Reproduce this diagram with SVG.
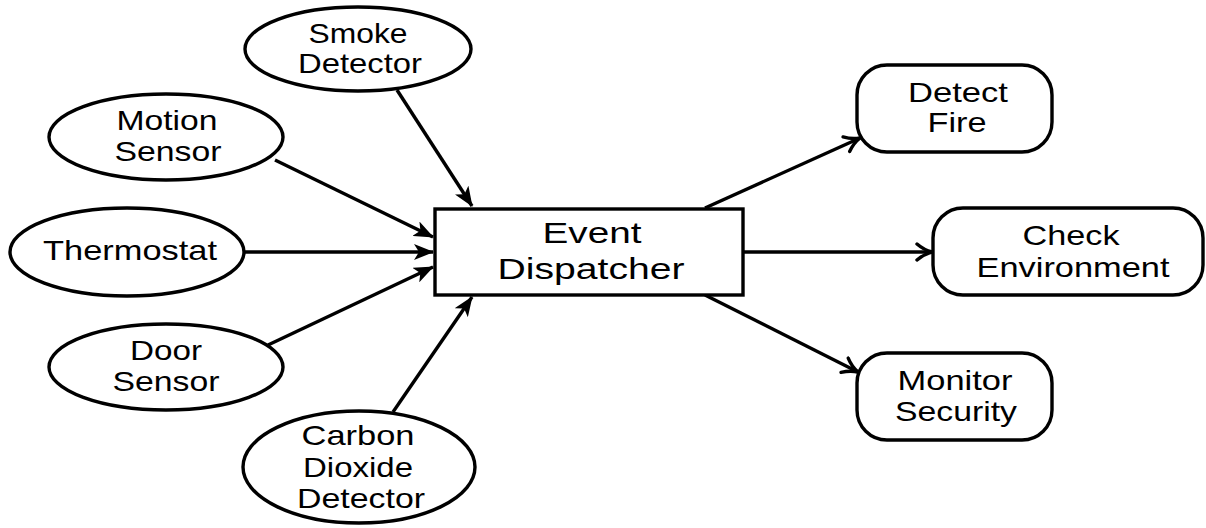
<svg xmlns="http://www.w3.org/2000/svg" width="1206" height="528" viewBox="0 0 1206 528">
<defs>
<style>
.shape{fill:#fff;stroke:#000;stroke-width:3.4}
.lbl{font-family:"Liberation Sans",Arial,sans-serif;font-size:28px;fill:#000;text-anchor:middle}
.big{font-size:30px}
.edge{stroke:#000;stroke-width:3.4;fill:none}
</style>
<marker id="fill" viewBox="0 0 20 16" refX="19" refY="8" markerWidth="20" markerHeight="16" markerUnits="userSpaceOnUse" orient="auto">
<path d="M0,0 L20,8 L0,16 L5,8 Z" fill="#000"/>
</marker>
<marker id="open" viewBox="0 0 20 20" refX="18" refY="10" markerWidth="20" markerHeight="20" markerUnits="userSpaceOnUse" orient="auto">
<path d="M3,2 Q10,8 18,10 Q10,12 3,18" fill="none" stroke="#000" stroke-width="3.4" stroke-linecap="round"/>
</marker>
</defs>
<rect width="1206" height="528" fill="#fff"/>
<g id="connectors">
<line class="edge" x1="397" y1="90" x2="472" y2="206" marker-end="url(#fill)"/>
<line class="edge" x1="275" y1="160" x2="433" y2="237" marker-end="url(#fill)"/>
<line class="edge" x1="245" y1="252" x2="433" y2="252" marker-end="url(#fill)"/>
<line class="edge" x1="268" y1="345" x2="433" y2="267" marker-end="url(#fill)"/>
<line class="edge" x1="393" y1="412" x2="472" y2="297" marker-end="url(#fill)"/>
<line class="edge" x1="705" y1="208" x2="860" y2="138" marker-end="url(#open)"/>
<line class="edge" x1="743" y1="252" x2="932" y2="252" marker-end="url(#open)"/>
<line class="edge" x1="705" y1="295" x2="858" y2="372" marker-end="url(#open)"/>
</g>
<g id="smoke">
<ellipse class="shape" cx="358" cy="49" rx="113" ry="42"/>
<text class="lbl" x="358" y="43" textLength="99" lengthAdjust="spacingAndGlyphs">Smoke</text>
<text class="lbl" x="360" y="73" textLength="124" lengthAdjust="spacingAndGlyphs">Detector</text>
</g>
<g id="motion">
<ellipse class="shape" cx="166" cy="137" rx="117" ry="43"/>
<text class="lbl" x="167" y="130" textLength="101" lengthAdjust="spacingAndGlyphs">Motion</text>
<text class="lbl" x="168" y="161" textLength="107" lengthAdjust="spacingAndGlyphs">Sensor</text>
</g>
<g id="thermostat">
<ellipse class="shape" cx="127" cy="252" rx="117" ry="44"/>
<text class="lbl" x="130" y="260" textLength="174" lengthAdjust="spacingAndGlyphs">Thermostat</text>
</g>
<g id="door">
<ellipse class="shape" cx="166" cy="367" rx="117" ry="43"/>
<text class="lbl" x="166" y="360" textLength="72" lengthAdjust="spacingAndGlyphs">Door</text>
<text class="lbl" x="166" y="391" textLength="107" lengthAdjust="spacingAndGlyphs">Sensor</text>
</g>
<g id="co2">
<ellipse class="shape" cx="359" cy="467" rx="116" ry="56"/>
<text class="lbl" x="358" y="445" textLength="113" lengthAdjust="spacingAndGlyphs">Carbon</text>
<text class="lbl" x="358" y="477" textLength="110" lengthAdjust="spacingAndGlyphs">Dioxide</text>
<text class="lbl" x="361" y="508" textLength="128" lengthAdjust="spacingAndGlyphs">Detector</text>
</g>
<g id="dispatcher">
<rect class="shape" x="435" y="209" width="308" height="86"/>
<text class="lbl big" x="592" y="243" textLength="99" lengthAdjust="spacingAndGlyphs">Event</text>
<text class="lbl big" x="591" y="279" textLength="187" lengthAdjust="spacingAndGlyphs">Dispatcher</text>
</g>
<g id="fire">
<rect class="shape" x="857" y="65" width="195" height="87" rx="30"/>
<text class="lbl" x="958" y="102" textLength="100" lengthAdjust="spacingAndGlyphs">Detect</text>
<text class="lbl" x="957" y="132" textLength="59" lengthAdjust="spacingAndGlyphs">Fire</text>
</g>
<g id="environment">
<rect class="shape" x="933" y="208" width="270" height="87" rx="30"/>
<text class="lbl" x="1071" y="245" textLength="97" lengthAdjust="spacingAndGlyphs">Check</text>
<text class="lbl" x="1073" y="277" textLength="193" lengthAdjust="spacingAndGlyphs">Environment</text>
</g>
<g id="security">
<rect class="shape" x="857" y="353" width="195" height="87" rx="30"/>
<text class="lbl" x="955" y="390" textLength="115" lengthAdjust="spacingAndGlyphs">Monitor</text>
<text class="lbl" x="956" y="421" textLength="122" lengthAdjust="spacingAndGlyphs">Security</text>
</g>
</svg>
